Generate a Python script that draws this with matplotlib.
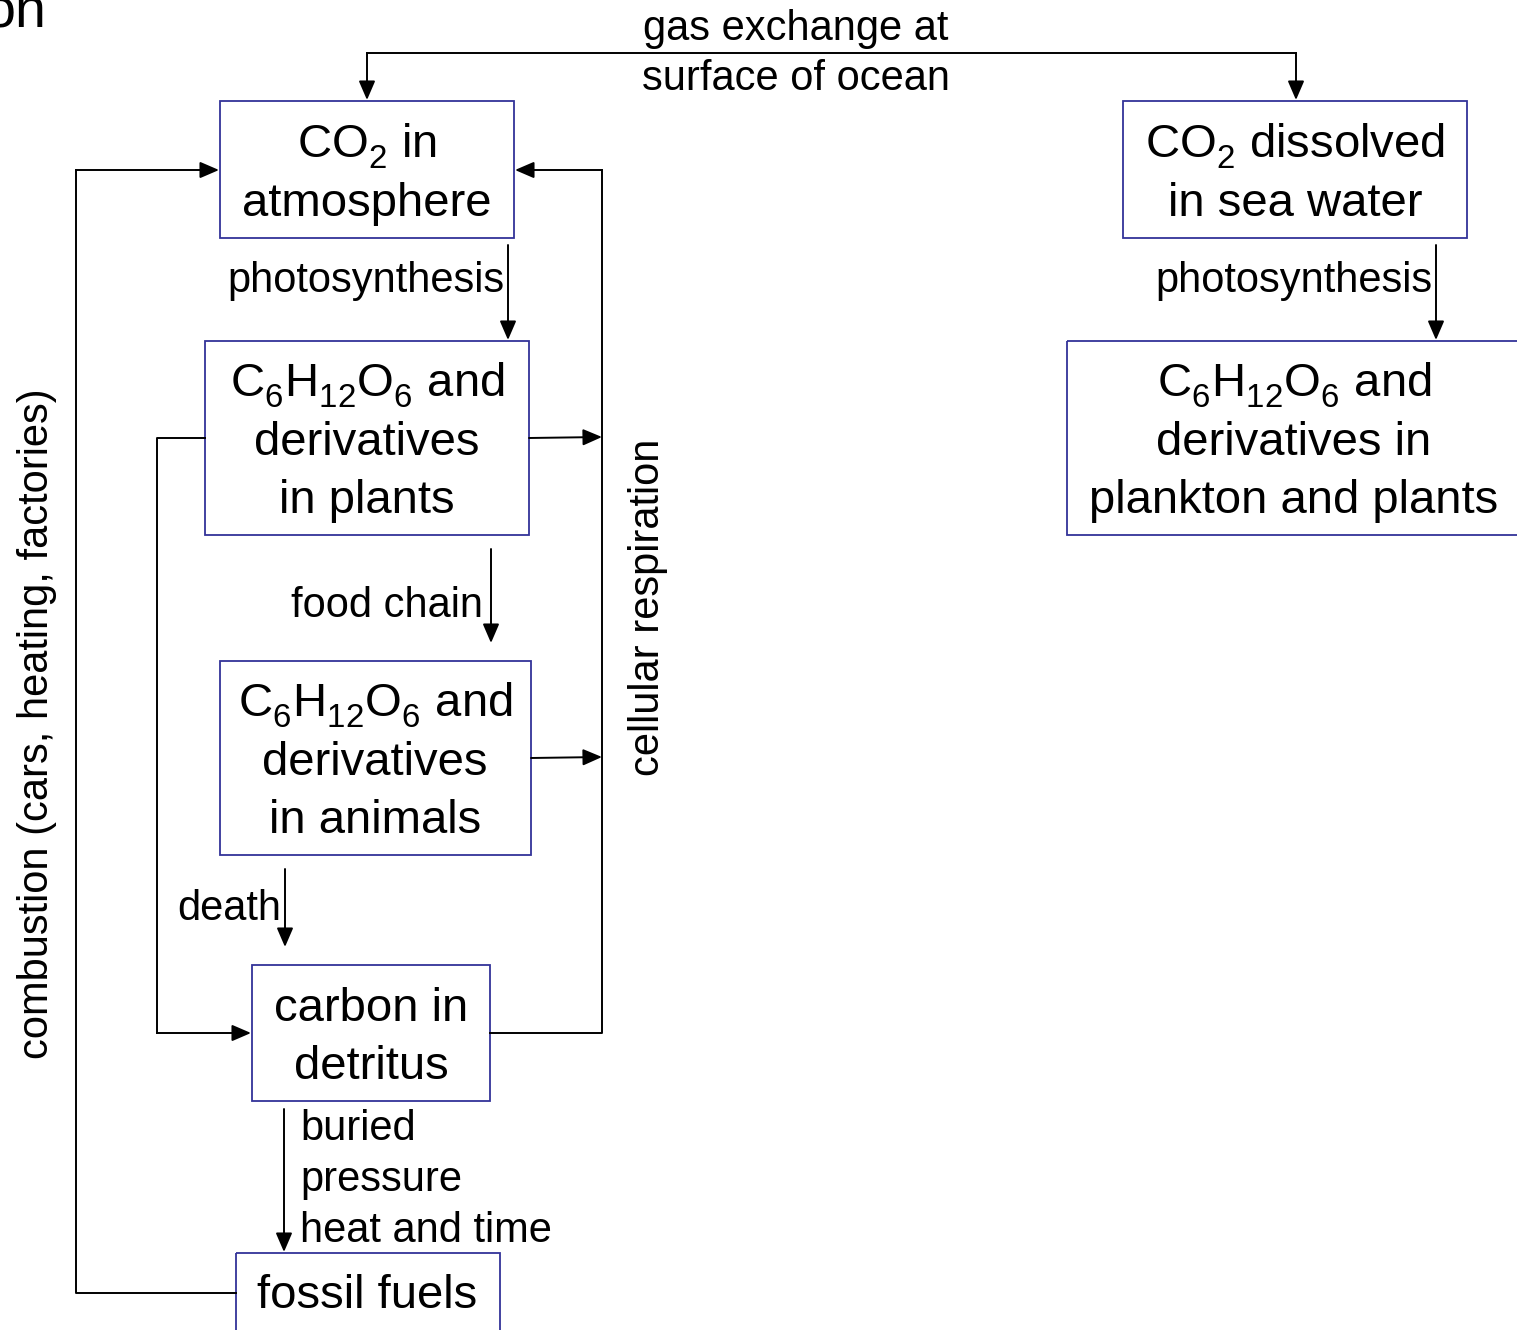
import matplotlib.pyplot as plt
from matplotlib.patches import Rectangle

plt.rcParams['font.family'] = ['Liberation Sans', 'DejaVu Sans']
plt.rcParams['mathtext.fontset'] = 'custom'
plt.rcParams['mathtext.rm'] = 'Liberation Sans'
plt.rcParams['mathtext.it'] = 'Liberation Sans'
plt.rcParams['mathtext.bf'] = 'Liberation Sans:bold'

# subscripts sit a bit lower in the original slide
try:
    import matplotlib._mathtext as _mt
    _mt.FontConstantsBase.sub1 = 0.45
except Exception:
    pass

# Box texts (one entry per line)
box_names = ['atmosphere', 'sea', 'plants', 'animals', 'detritus', 'fossil', 'plankton']
box_lines = [
    ['CO$_2$ in', 'atmosphere'],
    ['CO$_2$ dissolved', 'in sea water'],
    ['C$_6$H$_{12}$O$_6$ and', 'derivatives', 'in plants'],
    ['C$_6$H$_{12}$O$_6$ and', 'derivatives', 'in animals'],
    ['carbon in', 'detritus'],
    ['fossil fuels'],
    ['C$_6$H$_{12}$O$_6$ and', 'derivatives in', 'plankton and plants'],
]

# Flow labels
gas_label = ['gas exchange at', 'surface of ocean']
photo_label = 'photosynthesis'
food_label = 'food chain'
death_label = 'death'
buried_label = ['buried', 'pressure', 'heat and time']
resp_label = 'cellular respiration'
comb_label = 'combustion (cars, heating, factories)'

# Layout in pixels (x0, y0, x1, y1) and text centre
box_rect = {
    'atmosphere': (220, 101, 514, 238),
    'sea': (1123, 101, 1467, 238),
    'plants': (205, 341, 529, 535),
    'animals': (220, 661, 531, 855),
    'detritus': (252, 965, 490, 1101),
    'fossil': (236, 1253, 500, 1345),
    'plankton': (1067, 341, 1535, 535),
}
box_center = {
    'atmosphere': (367, 169.5),
    'sea': (1295, 169.5),
    'plants': (367, 438),
    'animals': (375, 758),
    'detritus': (371, 1033),
    'fossil': (367, 1291),
    'plankton': (1294, 438),
}

# connectors: list of points, arrow at end (and at start if flagged)
connectors = [
    ([(1296, 100), (1296, 53), (367, 53), (367, 100)], True),
    ([(508, 245), (508, 340)], False),
    ([(1436, 245), (1436, 340)], False),
    ([(491, 549), (491, 643)], False),
    ([(285, 869), (285, 947)], False),
    ([(284, 1109), (284, 1252)], False),
    ([(490, 1033), (602, 1033), (602, 170), (515, 170)], False),
    ([(529, 438), (602, 437)], False),
    ([(531, 758), (602, 757)], False),
    ([(205, 438), (157, 438), (157, 1033), (251, 1033)], False),
    ([(236, 1293), (76, 1293), (76, 170), (219, 170)], False),
]

W, H = 1517, 1330
fig = plt.figure(figsize=(W / 100, H / 100), dpi=100)
ax = fig.add_axes([0, 0, 1, 1])
ax.set_xlim(0, W)
ax.set_ylim(H, 0)
ax.axis('off')

BOX_COLOR = '#333399'
box_fs = 34
lab_fs = 30
pitch = 58
arrow_style = '-|>,head_length=0.58,head_width=0.25'


def arrow(p0, p1):
    ax.annotate('', xy=p1, xytext=p0,
                arrowprops=dict(arrowstyle=arrow_style, color='black', lw=1.4,
                                mutation_scale=20, shrinkA=0, shrinkB=0))


# boxes
for name, lines in zip(box_names, box_lines):
    x0, y0, x1, y1 = box_rect[name]
    ax.add_patch(Rectangle((x0, y0), x1 - x0, y1 - y0, fill=False,
                           edgecolor=BOX_COLOR, lw=1.3))
    cx, cy = box_center[name]
    n = len(lines)
    for k, line in enumerate(lines):
        ax.text(cx, cy + (k - (n - 1) / 2) * pitch + 17, line, fontsize=box_fs,
                ha='center', va='baseline')

# connectors
for pts, both in connectors:
    xs = [p[0] for p in pts]
    ys = [p[1] for p in pts]
    if both:
        arrow(pts[1], pts[0])
        ax.plot(xs[1:-1], ys[1:-1], color='black', lw=1.4, solid_capstyle='projecting')
    else:
        ax.plot(xs[:-1], ys[:-1], color='black', lw=1.4, solid_capstyle='projecting')
    arrow(pts[-2], pts[-1])

# flow labels
for k, t in enumerate(gas_label):
    ax.text(796, 40 + k * 50, t, fontsize=lab_fs, ha='center', va='baseline')
ax.text(505, 292, photo_label, fontsize=lab_fs, ha='right', va='baseline')
ax.text(1433, 292, photo_label, fontsize=lab_fs, ha='right', va='baseline')
ax.text(483, 617, food_label, fontsize=lab_fs, ha='right', va='baseline')
ax.text(281, 920, death_label, fontsize=lab_fs, ha='right', va='baseline')
for k, t in enumerate(buried_label):
    ax.text(300, 1140 + k * 51, t, fontsize=lab_fs, ha='left', va='baseline')
ax.text(648, 607, resp_label, fontsize=lab_fs, rotation=90, ha='center', va='center')
ax.text(37, 724, comb_label, fontsize=lab_fs, rotation=90, ha='center', va='center')

# cut-off title fragment (clipped by the slide edge in the original too)
ax.text(47, 28, 'on', fontsize=40, ha='right', va='baseline')

fig.savefig('out.png', dpi=100)
